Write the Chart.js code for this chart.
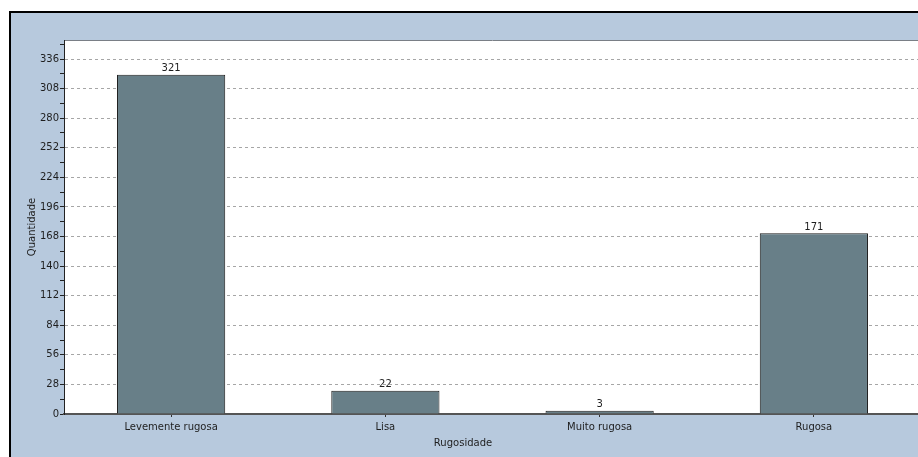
<!DOCTYPE html>
<html>
<head>
<meta charset="utf-8">
<script src="https://cdn.jsdelivr.net/npm/chart.js@4.4.1/dist/chart.umd.min.js"></script>
<style>
  html, body { margin: 0; padding: 0; background: #fff; overflow: hidden; width: 918px; height: 457px; }
  #frame { position: absolute; left: 9px; top: 11px; width: 940px; height: 460px;
           border-left: 2px solid #000; border-top: 2px solid #000; background: #b7c9dd; }
  #wrap { position: absolute; left: 0; top: 0; width: 930px; height: 457px; }
</style>
</head>
<body>
<div id="frame"></div>
<div id="wrap"><canvas id="chart"></canvas></div>
<script>
const categories = ['Levemente rugosa', 'Lisa', 'Muito rugosa', 'Rugosa'];
const quantities = [321, 22, 3, 171];
const yMax = 354;
const majorStep = 28;
const minorStep = 14;

const FONT = 'DejaVu Sans';
const TEXT = '#1e1e1e';

// white plot background plus the thin line along its top
const plotBg = {
    id: 'plotBg',
    beforeDraw(chart) {
        const {ctx, chartArea} = chart;
        ctx.save();
        ctx.fillStyle = '#ffffff';
        ctx.fillRect(chartArea.left, chartArea.top, chartArea.right - chartArea.left, chartArea.bottom - chartArea.top);
        ctx.strokeStyle = '#7a7f86';
        ctx.lineWidth = 1;
        ctx.beginPath();
        ctx.moveTo(chartArea.left, chartArea.top + 0.5);
        ctx.lineTo(chartArea.right, chartArea.top + 0.5);
        ctx.stroke();
        ctx.restore();
    }
};

// value over each bar, and the x axis title
const barLabels = {
    id: 'barLabels',
    afterDraw(chart) {
        const {ctx} = chart;
        const meta = chart.getDatasetMeta(0);
        ctx.save();
        ctx.font = '10px "' + FONT + '"';
        ctx.fillStyle = TEXT;
        ctx.textAlign = 'center';
        ctx.textBaseline = 'bottom';
        meta.data.forEach((bar, i) => {
            ctx.fillText(String(quantities[i]), bar.x, bar.y - 1);
        });
        ctx.textBaseline = 'middle';
        ctx.fillText('Rugosidade', 463, 443);
        ctx.restore();
    }
};

new Chart(document.getElementById('chart'), {
    type: 'bar',
    data: {
        labels: categories,
        datasets: [{
            data: quantities,
            backgroundColor: '#687f88',
            borderColor: '#1c1c1c',
            borderWidth: 1,
            categoryPercentage: 1,
            barPercentage: 0.505
        }]
    },
    options: {
        responsive: true,
        maintainAspectRatio: false,
        animation: false,
        devicePixelRatio: 1,
        layout: {padding: {top: 40, right: 9, bottom: 0, left: 0}},
        plugins: {legend: {display: false}, tooltip: {enabled: false}},
        scales: {
            x: {
                grid: {display: true, drawOnChartArea: false, offset: false, tickLength: 3, tickColor: '#333', color: '#333'},
                border: {color: '#555', width: 2},
                ticks: {color: TEXT, font: {family: FONT, size: 10}, padding: 4, maxRotation: 0},
                afterFit(scale) { scale.height = 43; }
            },
            y: {
                min: 0,
                max: yMax,
                afterBuildTicks(scale) {
                    const t = [];
                    for (let v = 0; v <= yMax; v += minorStep) t.push({value: v});
                    scale.ticks = t;
                },
                grid: {
                    color: c => (c.tick && c.tick.value > 0 && c.tick.value % majorStep === 0) ? '#a6a6a6' : 'rgba(0,0,0,0)',
                    tickColor: '#222',
                    tickLength: 4
                },
                border: {color: '#222', width: 1, dash: [3, 3]},
                ticks: {
                    color: TEXT,
                    font: {family: FONT, size: 10},
                    padding: 1,
                    autoSkip: false,
                    callback: v => (v % majorStep === 0 ? String(v) : '')
                },
                title: {display: true, text: 'Quantidade', color: TEXT, font: {family: FONT, size: 10}, padding: {top: 26, bottom: 0}},
                afterFit(scale) { scale.width = 64; }
            }
        }
    },
    plugins: [plotBg, barLabels]
});
</script>
</body>
</html>
